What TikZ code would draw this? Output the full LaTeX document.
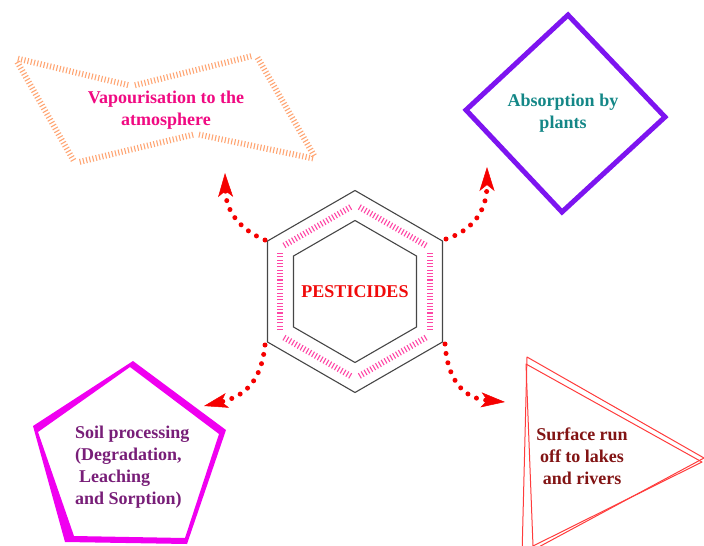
\documentclass[tikz,border=0pt]{standalone}
\usepackage{fontspec}
\setmainfont{Liberation Serif}
\usetikzlibrary{arrows.meta,calc}
\definecolor{vapline}{RGB}{255,165,115}
\definecolor{vaptext}{RGB}{240,10,130}
\definecolor{diamline}{RGB}{125,20,240}
\definecolor{abstext}{RGB}{20,135,135}
\definecolor{hexline}{RGB}{70,70,70}
\definecolor{hexpink}{RGB}{255,70,165}
\definecolor{pestred}{RGB}{240,10,10}
\definecolor{arrred}{RGB}{245,0,0}
\definecolor{pentmag}{RGB}{240,0,240}
\definecolor{soiltext}{RGB}{120,30,120}
\definecolor{triline}{RGB}{255,60,60}
\definecolor{surftext}{RGB}{130,20,20}
\begin{document}
\begin{tikzpicture}[x=1pt,y=-1pt,
  lbl/.style={font=\fontsize{18}{22}\selectfont\bfseries, align=center, inner sep=0pt},
  flow/.style={draw=arrred, line width=5pt, line cap=round, dash pattern=on 0pt off 9.5pt,
    -{Stealth[length=24pt,width=15pt,inset=6pt,line width=0.5pt]}},
  ticks/.style={line width=6pt, dash pattern=on 1.1pt off 2.2pt},
  hexedge/.style={draw=hexline, line width=1.1pt, line join=miter}
]
\useasboundingbox (0,0) rectangle (704,546);
\clip (0,0) rectangle (704,546);

% ---------- hexagon ----------
\begin{scope}[shift={(355,291.5)}]
  \draw[hexedge] (30:101) -- (90:101) -- (150:101) -- (210:101) -- (270:101) -- (330:101) -- cycle;
  \draw[hexedge] (30:71) -- (90:71) -- (150:71) -- (210:71) -- (270:71) -- (330:71) -- cycle;
  \foreach \a in {30,90,150,210,270,330}{
    \draw[hexpink,ticks,shorten <=5pt,shorten >=5pt] (\a:87) -- (\a+60:87);
  }
\end{scope}
\node[lbl, text=pestred] (pest) at (355,292) {PESTICIDES};

% ---------- vapourisation ----------
\coordinate (vA) at (15,58);
\coordinate (vB) at (132,86);
\coordinate (vC) at (256,55);
\coordinate (vD) at (316,159);
\coordinate (vE) at (196,134);
\coordinate (vF) at (75,163);
\foreach \p/\q in {vA/vB,vB/vC,vC/vD,vD/vE,vE/vF,vF/vA}{
  \draw[vapline,ticks,shorten <=3pt,shorten >=3pt] (\p) -- (\q);
}
\node[lbl, text=vaptext] (vap) at (166,110) {Vapourisation to the\\atmosphere};

% ---------- absorption ----------
\draw[diamline, line width=5pt, line join=miter] (568,15) -- (665,117) -- (562,212) -- (466,110) -- cycle;
\node[lbl, text=abstext] (abs) at (563,113) {Absorption by\\plants};

% ---------- soil pentagon ----------
\fill[pentmag, even odd rule]
  (133,361) -- (226,430) -- (187,544) -- (65,542) -- (33,426) -- cycle
  (130,367) -- (219,434) -- (185,538) -- (74,536) -- (38,432) -- cycle;
\node[lbl, text=soiltext, align=left, anchor=west] (soil) at (75,467)
  {Soil processing\\(Degradation,\\\hspace*{4pt}Leaching\\and Sorption)};

% ---------- surface triangle ----------
\draw[triline, line width=1pt, line join=round] (527,357) -- (704,458) -- (522,556) -- cycle;
\draw[triline, line width=1pt, line join=round] (526,364) -- (702,462) -- (533,546) -- cycle;
\node[lbl, text=surftext] (surf) at (582,456) {Surface run\\off to lakes\\and rivers};

% ---------- arrows ----------
\coordinate (hUL) at (265,240);
\coordinate (hUR) at (446,239);
\coordinate (hLL) at (265,345);
\coordinate (hLR) at (445,344);
\coordinate (tTL) at (225,173);
\coordinate (tTR) at (487,167);
\coordinate (tBL) at (204,406);
\coordinate (tBR) at (505,402);
\draw[flow] (hUL) .. controls (245,232) and (226,215) .. (tTL);
\draw[flow] (hUR) .. controls (468,232) and (487,215) .. (tTR);
\draw[flow] (hLL) .. controls (262,375) and (250,395) .. (tBL);
\draw[flow] (hLR) .. controls (447,375) and (460,398) .. (tBR);
\end{tikzpicture}
\end{document}
